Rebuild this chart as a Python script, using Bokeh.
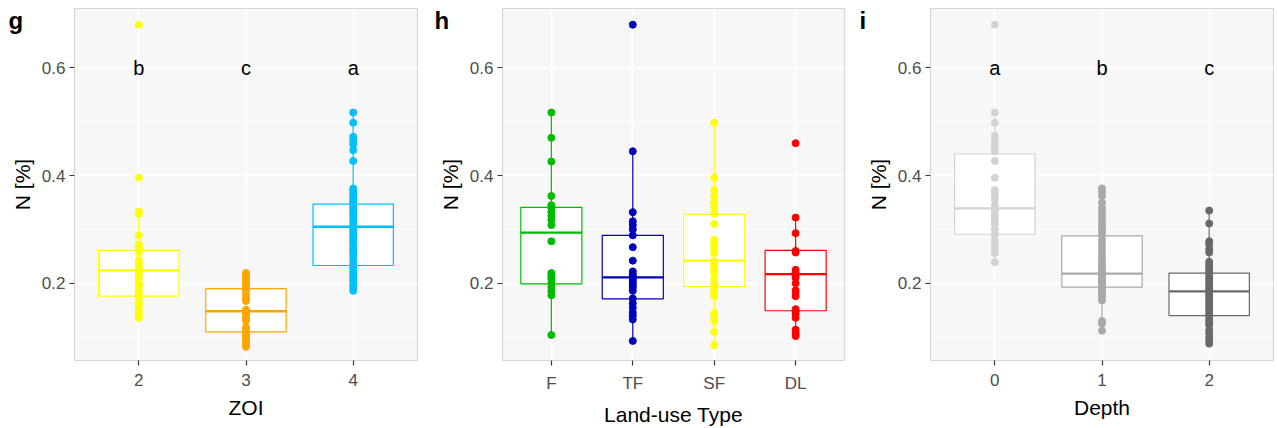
from bokeh.plotting import figure
from bokeh.models import Range1d, FixedTicker, Title
from bokeh.layouts import row
from bokeh.core.properties import value
from bokeh.embed import file_html
from bokeh.resources import INLINE

FONT = "Liberation Sans"

# ---------------- data ----------------
zoi_cats = ["2", "3", "4"]
zoi_letters = ["b", "c", "a"]
zoi_colors = ["#FFFF00", "#FFA500", "#00BFFF"]
zoi_2 = [0.68, 0.396, 0.333, 0.329, 0.289, 0.272, 0.266, 0.262, 0.258, 0.243, 0.238, 0.232,
         0.226, 0.224, 0.221, 0.215, 0.210, 0.200, 0.198, 0.193, 0.186, 0.180, 0.176, 0.170,
         0.163, 0.158, 0.150, 0.145, 0.140, 0.136]
zoi_3 = [0.219, 0.215, 0.210, 0.205, 0.200, 0.195, 0.190, 0.185, 0.178, 0.172, 0.167, 0.151,
         0.148, 0.145, 0.142, 0.138, 0.134, 0.130, 0.118, 0.113, 0.108, 0.102, 0.097, 0.092,
         0.087, 0.082]
zoi_4 = [0.517, 0.498, 0.472, 0.465, 0.458, 0.447, 0.427, 0.376, 0.372, 0.366, 0.360, 0.355,
         0.350, 0.345, 0.340, 0.335, 0.330, 0.325, 0.318, 0.312, 0.306, 0.300, 0.295, 0.290,
         0.285, 0.279, 0.272, 0.265, 0.260, 0.255, 0.248, 0.240, 0.234, 0.228, 0.222, 0.215,
         0.210, 0.205, 0.198, 0.192, 0.186]
zoi_q1 = [0.176, 0.110, 0.233]
zoi_med = [0.224, 0.148, 0.305]
zoi_q3 = [0.261, 0.190, 0.347]
zoi_lo = [0.136, 0.082, 0.186]
zoi_hi = [0.331, 0.219, 0.517]

lu_cats = ["F", "TF", "SF", "DL"]
lu_colors = ["#00BB00", "#0000BB", "#FFFF00", "#FF0000"]
lu_F = [0.517, 0.470, 0.426, 0.362, 0.345, 0.340, 0.332, 0.325, 0.318, 0.308, 0.278, 0.219,
        0.214, 0.208, 0.200, 0.192, 0.185, 0.178, 0.104]
lu_TF = [0.68, 0.445, 0.332, 0.315, 0.308, 0.300, 0.289, 0.267, 0.242, 0.222, 0.217, 0.213,
         0.210, 0.206, 0.202, 0.197, 0.192, 0.186, 0.172, 0.163, 0.155, 0.146, 0.140, 0.133,
         0.093]
lu_SF = [0.498, 0.396, 0.373, 0.362, 0.350, 0.340, 0.329, 0.310, 0.281, 0.275, 0.268, 0.262,
         0.256, 0.241, 0.236, 0.230, 0.224, 0.218, 0.207, 0.200, 0.193, 0.186, 0.180, 0.176,
         0.145, 0.140, 0.130, 0.110, 0.085]
lu_DL = [0.460, 0.322, 0.293, 0.260, 0.257, 0.225, 0.220, 0.215, 0.210, 0.200, 0.187, 0.182,
         0.176, 0.152, 0.147, 0.142, 0.136, 0.114, 0.110, 0.106, 0.102]
lu_q1 = [0.199, 0.171, 0.194, 0.149]
lu_med = [0.294, 0.211, 0.242, 0.217]
lu_q3 = [0.341, 0.289, 0.328, 0.261]
lu_lo = [0.104, 0.093, 0.085, 0.102]
lu_hi = [0.517, 0.445, 0.498, 0.322]

depth_cats = ["0", "1", "2"]
depth_letters = ["a", "b", "c"]
depth_colors = ["#D3D3D3", "#A9A9A9", "#696969"]
depth_0 = [0.68, 0.517, 0.498, 0.474, 0.465, 0.455, 0.445, 0.427, 0.396, 0.373, 0.365, 0.356,
           0.345, 0.338, 0.333, 0.325, 0.318, 0.310, 0.300, 0.290, 0.279, 0.271, 0.262, 0.256,
           0.239]
depth_1 = [0.376, 0.370, 0.362, 0.350, 0.340, 0.332, 0.325, 0.318, 0.310, 0.303, 0.296, 0.289,
           0.280, 0.273, 0.265, 0.258, 0.250, 0.243, 0.236, 0.229, 0.224, 0.219, 0.215, 0.211,
           0.207, 0.203, 0.199, 0.195, 0.190, 0.185, 0.180, 0.174, 0.168, 0.130, 0.125, 0.112]
depth_2 = [0.335, 0.311, 0.278, 0.272, 0.263, 0.257, 0.240, 0.235, 0.230, 0.225, 0.220, 0.215,
           0.210, 0.205, 0.200, 0.195, 0.190, 0.186, 0.182, 0.178, 0.173, 0.168, 0.163, 0.158,
           0.153, 0.148, 0.143, 0.138, 0.132, 0.127, 0.122, 0.113, 0.107, 0.100, 0.094, 0.088]
depth_q1 = [0.291, 0.193, 0.140]
depth_med = [0.339, 0.218, 0.185]
depth_q3 = [0.440, 0.288, 0.219]
depth_lo = [0.239, 0.112, 0.085]
depth_hi = [0.517, 0.376, 0.335]

y_ticks = [0.2, 0.4, 0.6]
y_minor = [0.1, 0.3, 0.5]
letter_y = 0.6
y_label = "N [%]"

FIG_H = 428
TOP = 8
BOTTOM = 66


def panel(tag, cats, pts, q1, med, q3, lo, hi, colors, xlabel, letters, width, left, right):
    n = len(cats)
    xs = list(range(1, n + 1))
    p = figure(width=width, height=FIG_H, output_backend="svg", toolbar_location=None,
               x_range=Range1d(0.4, n + 0.6), y_range=Range1d(0.0567, 0.710),
               min_border_left=left, min_border_right=right,
               min_border_top=TOP, min_border_bottom=BOTTOM,
               title=Title(text=tag, align="left", offset=8 - left, standoff=-51,
                           vertical_align="bottom", text_font=FONT, text_font_style="bold",
                           text_font_size="24px", text_color="black"))
    p.background_fill_color = "#F7F7F7"
    p.border_fill_color = "white"
    p.outline_line_color = "#D6D6D6"
    p.outline_line_width = 1.2

    # grid
    p.xgrid.grid_line_color = "white"
    p.xgrid.grid_line_width = 1.8
    p.ygrid.grid_line_color = "white"
    p.ygrid.grid_line_width = 1.8
    p.ygrid.minor_grid_line_color = "white"
    p.ygrid.minor_grid_line_width = 1.0

    half = 0.375
    p.segment(x0=xs, y0=q3, x1=xs, y1=hi, line_color=colors, line_width=1.2)
    p.segment(x0=xs, y0=lo, x1=xs, y1=q1, line_color=colors, line_width=1.2)
    p.vbar(x=xs, width=2 * half, bottom=q1, top=q3, fill_color="white",
           line_color=colors, line_width=1.2)
    p.segment(x0=[x - half for x in xs], y0=med, x1=[x + half for x in xs], y1=med,
              line_color=colors, line_width=2.4)

    px, py, pc = [], [], []
    for i, vals in enumerate(pts):
        for v in vals:
            px.append(xs[i])
            py.append(v)
            pc.append(colors[i])
    p.scatter(x=px, y=py, size=7, fill_color=pc, line_color=pc)

    if letters:
        p.text(x=xs, y=[letter_y] * n, text=letters, text_align="center",
               text_baseline="middle", text_font=value(FONT), text_font_size="20px",
               text_color="black")

    # axes
    p.xaxis.ticker = FixedTicker(ticks=xs)
    p.xaxis.major_label_overrides = {x: c for x, c in zip(xs, cats)}
    p.yaxis.ticker = FixedTicker(ticks=y_ticks, minor_ticks=y_minor)
    for ax in (p.xaxis[0], p.yaxis[0]):
        ax.axis_line_color = None
        ax.major_tick_line_color = "#333333"
        ax.major_tick_line_width = 1.2
        ax.major_tick_out = 5
        ax.major_tick_in = 0
        ax.minor_tick_out = 0
        ax.minor_tick_in = 0
        ax.major_label_text_font = FONT
        ax.major_label_text_font_size = "17px"
        ax.major_label_text_color = "#4D4D4D"
        ax.axis_label_text_font = FONT
        ax.axis_label_text_font_size = "21px"
        ax.axis_label_text_font_style = "normal"
        ax.axis_label_text_color = "black"
    p.xaxis.axis_label = xlabel
    p.yaxis.axis_label = y_label
    p.xaxis.major_label_standoff = 8
    p.xaxis.axis_label_standoff = 7
    p.yaxis.major_label_standoff = 4
    p.yaxis.axis_label_standoff = 5
    return p


pg = panel("g", zoi_cats, [zoi_2, zoi_3, zoi_4], zoi_q1, zoi_med, zoi_q3, zoi_lo, zoi_hi,
           zoi_colors, "ZOI", zoi_letters, 426, 74, 9)
ph = panel("h", lu_cats, [lu_F, lu_TF, lu_SF, lu_DL], lu_q1, lu_med, lu_q3, lu_lo, lu_hi,
           lu_colors, "Land-use Type", None, 425, 76, 7)
pi = panel("i", depth_cats, [depth_0, depth_1, depth_2], depth_q1, depth_med, depth_q3,
           depth_lo, depth_hi, depth_colors, "Depth", depth_letters, 426, 79, 4)

layout = row(pg, ph, pi)
open("out.html", "w").write(file_html(layout, INLINE))
